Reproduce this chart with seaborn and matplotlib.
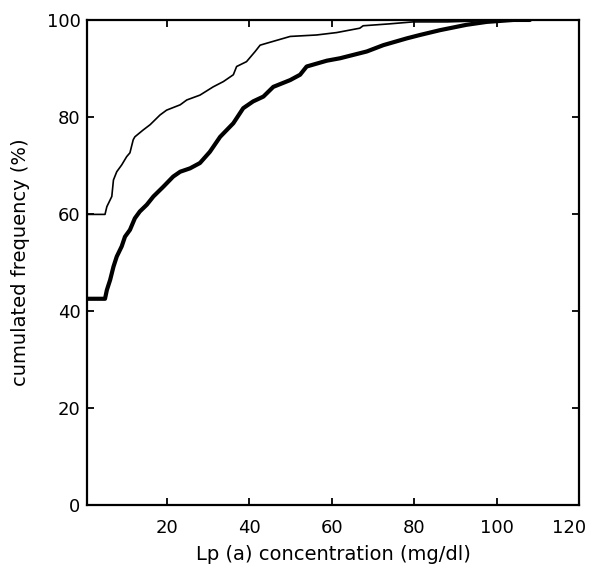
import matplotlib
matplotlib.use("Agg")
import matplotlib.pyplot as plt
import matplotlib.transforms as mtransforms
import seaborn as sns
import pandas as pd

# Thin curve (upper) – cumulated frequency vs Lp(a)
thin_x = [0.8, 4.95, 5.4, 6.6, 7.0, 7.8, 9.0, 10.2, 11.0, 11.8, 12.2, 14.2, 15.9, 18.3,
          19.9, 23.2, 24.8, 28.0, 31.2, 33.7, 36.1, 36.9, 39.3, 41.4, 42.6, 44.2, 49.9,
          56.3, 61.2, 66.8, 67.6, 74.1, 79.7, 87.9, 96.0, 104.0, 108.0]
thin_y = [59.9, 59.9, 61.5, 63.6, 67.0, 68.7, 70.1, 71.8, 72.6, 75.3, 75.9, 77.3, 78.4, 80.4,
          81.4, 82.5, 83.5, 84.5, 86.2, 87.3, 88.7, 90.4, 91.4, 93.5, 94.8, 95.2, 96.6,
          96.9, 97.4, 98.3, 98.8, 99.2, 99.6, 99.6, 99.8, 100.0, 100.0]

# Thick curve (lower)
thick_x = [0.8, 4.95, 5.4, 6.2, 7.0, 7.8, 9.0, 9.8, 11.0, 12.2, 13.4, 15.1, 16.7, 19.1,
           21.5, 23.2, 25.6, 28.0, 30.4, 32.9, 36.1, 38.5, 40.9, 43.4, 45.8, 49.9, 52.3,
           53.9, 58.8, 62.0, 68.5, 72.5, 78.2, 81.4, 86.3, 92.7, 97.6, 104.1, 108.1]
thick_y = [42.5, 42.5, 44.3, 46.4, 49.1, 51.2, 53.3, 55.3, 56.7, 59.1, 60.5, 61.9, 63.6, 65.6,
           67.7, 68.7, 69.4, 70.5, 72.8, 75.9, 78.7, 81.8, 83.2, 84.2, 86.2, 87.6, 88.7,
           90.4, 91.6, 92.1, 93.5, 94.8, 96.2, 96.9, 97.9, 99.0, 99.6, 100.0, 100.0]

x_ticks = [20, 40, 60, 80, 100, 120]
y_ticks = [0, 20, 40, 60, 80, 100]

sns.set_style("ticks")
plt.rcParams["font.family"] = ["DejaVu Sans"]
plt.rcParams["text.color"] = "black"
plt.rcParams["axes.labelcolor"] = "black"

fig = plt.figure(figsize=(5.94, 5.75), dpi=100)
ax = fig.add_axes([0.1473, 0.122, 0.8274, 0.8433])

df_thin = pd.DataFrame({"x": thin_x, "y": thin_y})
df_thick = pd.DataFrame({"x": thick_x, "y": thick_y})

sns.lineplot(data=df_thin, x="x", y="y", ax=ax, color="black", linewidth=1.2,
             sort=False, estimator=None)
sns.lineplot(data=df_thick, x="x", y="y", ax=ax, color="black", linewidth=3.0,
             sort=False, estimator=None)

ax.set_xlim(0.7, 120)
ax.set_ylim(0, 100)
ax.set_xticks(x_ticks)
ax.set_yticks(y_ticks)
ax.tick_params(axis="both", direction="in", length=5, width=1.3, labelsize=13,
               top=True, right=True, colors="black")
ax.tick_params(axis="x", pad=10)
ax.tick_params(axis="y", pad=5)
for s in ax.spines.values():
    s.set_visible(True)
    s.set_linewidth(1.6)
    s.set_color("black")

ax.set_xlabel("Lp (a) concentration (mg/dl)", fontsize=14, labelpad=6)
ax.set_ylabel("cumulated frequency (%)", fontsize=14, labelpad=12)

# keep the last x tick label ("120") inside the figure
last = ax.get_xticklabels()[-1]
last.set_transform(last.get_transform() +
                   mtransforms.ScaledTranslation(-7 / 72, 0, fig.dpi_scale_trans))

fig.savefig("out.png", dpi=100)
